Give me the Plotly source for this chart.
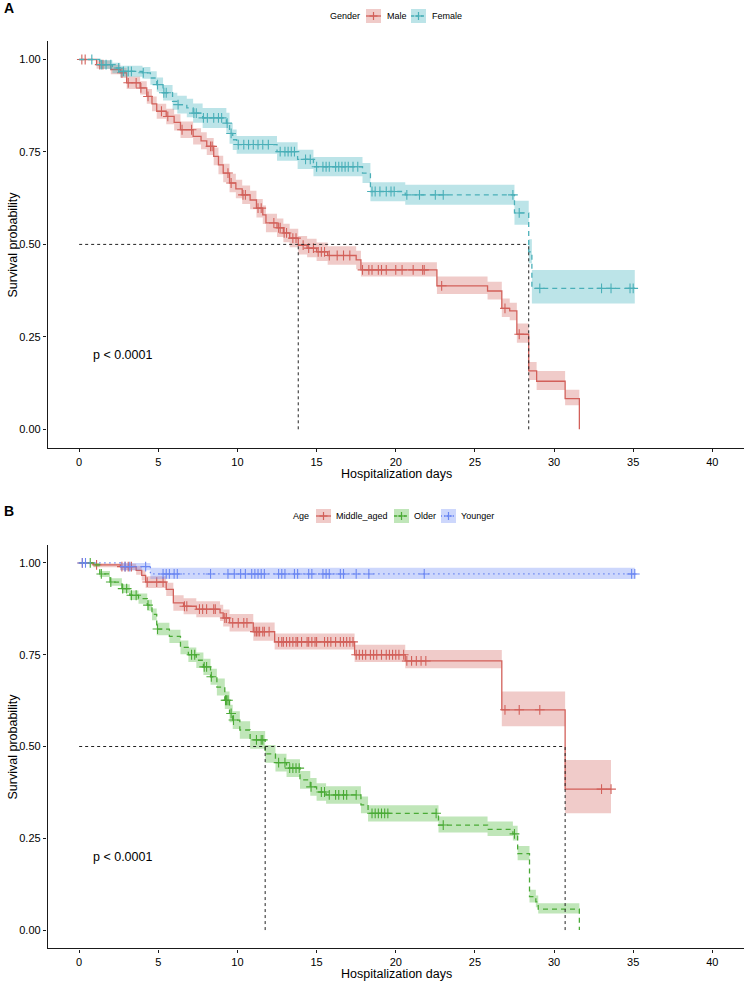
import numpy as np
import plotly.graph_objects as go

W, H = 744, 982

# ---------------- Panel A : Gender ----------------
male_time = [0, 1.1, 2.0, 2.6, 3.0, 3.85, 4.27, 4.6, 4.9, 5.5, 6.0, 6.4, 7.2, 7.7, 8.06, 8.5, 8.8, 9.1, 9.5, 9.9,
             10.3, 10.8, 11.2, 11.6, 11.8, 12.5, 12.9, 13.3, 13.84, 14.4, 15.0, 15.7, 17.5, 17.8, 22.6, 25.8, 26.7,
             27.2, 27.65, 28.4, 28.9, 30.7, 31.6]
male_surv = [1.0, 0.986, 0.973, 0.964, 0.937, 0.923, 0.90, 0.88, 0.86, 0.846, 0.83, 0.81, 0.792, 0.78, 0.765, 0.738,
             0.715, 0.693, 0.666, 0.65, 0.634, 0.62, 0.598, 0.58, 0.558, 0.545, 0.531, 0.517, 0.498, 0.49, 0.48, 0.47,
             0.458, 0.431, 0.388, 0.374, 0.327, 0.32, 0.257, 0.158, 0.13, 0.083, 0.0]
male_lower = [1.0, 0.975, 0.96, 0.95, 0.92, 0.905, 0.88, 0.86, 0.84, 0.825, 0.808, 0.788, 0.77, 0.757, 0.742, 0.714,
              0.69, 0.668, 0.641, 0.625, 0.609, 0.595, 0.573, 0.555, 0.533, 0.52, 0.506, 0.492, 0.473, 0.465, 0.455,
              0.445, 0.433, 0.413, 0.366, 0.351, 0.304, 0.295, 0.234, 0.133, 0.106, 0.065, 0.0]
male_upper = [1.0, 0.997, 0.986, 0.978, 0.954, 0.941, 0.92, 0.90, 0.88, 0.867, 0.852, 0.832, 0.814, 0.803, 0.788,
              0.762, 0.74, 0.718, 0.691, 0.675, 0.659, 0.645, 0.623, 0.605, 0.583, 0.57, 0.556, 0.542, 0.523, 0.515,
              0.505, 0.495, 0.483, 0.452, 0.413, 0.399, 0.354, 0.342, 0.286, 0.182, 0.158, 0.107, 0.0]
male_end = 31.6
male_censor = [0.17, 0.38, 1.3, 1.5, 2.7, 3.1, 3.6, 3.9, 4.35, 5.2, 5.6, 6.5, 7.1, 8.3, 8.4, 9.4, 9.6, 10.35, 10.5,
               11.3, 11.5, 12.3, 12.6, 12.7, 12.95, 13.1, 13.5, 13.7, 14.15, 14.5, 14.8, 15.1, 15.3, 15.5, 15.8, 16.3,
               16.7, 17.1, 17.9, 18.3, 18.5, 18.9, 19.1, 19.4, 20.0, 20.4, 21.1, 21.7, 21.8, 22.9, 26.9, 27.8]

female_time = [0, 1.3, 2.1, 2.6, 4.0, 4.5, 4.9, 5.3, 5.9, 6.2, 6.8, 7.2, 7.8, 9.3, 9.5, 9.7, 9.95, 12.5, 13.8, 14.8,
               17.9, 18.4, 20.6, 27.5, 28.4, 28.6]
female_surv = [1.0, 0.986, 0.977, 0.968, 0.964, 0.95, 0.932, 0.91, 0.887, 0.878, 0.869, 0.855, 0.842, 0.828, 0.80,
               0.783, 0.77, 0.751, 0.73, 0.71, 0.693, 0.643, 0.634, 0.585, 0.48, 0.381]
female_lower = [1.0, 0.974, 0.963, 0.953, 0.948, 0.932, 0.913, 0.889, 0.864, 0.854, 0.844, 0.829, 0.815, 0.8, 0.772,
                0.755, 0.745, 0.726, 0.704, 0.684, 0.666, 0.617, 0.607, 0.553, 0.449, 0.34]
female_upper = [1.0, 0.998, 0.991, 0.983, 0.98, 0.968, 0.951, 0.931, 0.91, 0.902, 0.894, 0.881, 0.869, 0.856, 0.828,
                0.811, 0.793, 0.776, 0.756, 0.736, 0.72, 0.668, 0.661, 0.618, 0.514, 0.431]
female_end = 35.1
female_censor = [0.8, 1.4, 1.7, 2.0, 2.5, 2.8, 3.1, 3.3, 4.05, 4.95, 5.35, 5.5, 6.25, 7.25, 7.4, 7.85, 8.1, 8.5, 8.8,
                 9.0, 9.35, 9.6, 10.05, 10.4, 10.7, 11.0, 11.3, 11.6, 11.95, 12.7, 13.0, 13.2, 13.4, 13.6, 14.3,
                 14.6, 15.0, 15.4, 15.6, 15.8, 16.2, 16.4, 16.6, 16.8, 17.0, 17.3, 17.6, 18.5, 18.7, 19.0, 19.4,
                 19.7, 19.9, 20.7, 21.5, 22.5, 23.0, 27.4, 27.8, 29.1, 33.0, 33.6, 34.8, 35.0]

# ---------------- Panel B : Age ----------------
mid_time = [0, 0.9, 2.6, 3.6, 3.95, 4.2, 5.5, 5.95, 6.6, 7.4, 8.9, 9.1, 9.5, 11.0, 12.35, 17.4, 20.6, 26.7, 30.7]
mid_surv = [1.0, 0.995, 0.99, 0.98, 0.966, 0.948, 0.928, 0.891, 0.882, 0.874, 0.864, 0.85, 0.837, 0.813, 0.785, 0.75,
            0.733, 0.60, 0.384]
mid_lower = [1.0, 0.988, 0.98, 0.968, 0.952, 0.932, 0.91, 0.87, 0.86, 0.852, 0.842, 0.827, 0.813, 0.788, 0.764, 0.73,
             0.713, 0.555, 0.318]
mid_upper = [1.0, 1.0, 0.998, 0.992, 0.98, 0.964, 0.946, 0.912, 0.904, 0.896, 0.886, 0.873, 0.861, 0.838, 0.808,
             0.777, 0.763, 0.65, 0.463]
mid_end = 33.6
mid_censor = [0.2, 1.1, 2.7, 2.9, 3.1, 3.3, 4.3, 4.9, 5.3, 6.65, 6.8, 7.6, 7.8, 8.05, 8.5, 8.6, 9.2, 9.3, 9.7, 10.05,
              10.4, 10.6, 11.1, 11.2, 11.3, 11.4, 11.6, 11.7, 12.0, 12.6, 12.8, 12.9, 13.1, 13.3, 13.5, 13.7, 13.8,
              14.05, 14.4, 14.5, 14.7, 14.9, 15.0, 15.5, 15.7, 15.9, 16.2, 16.5, 16.7, 16.9, 17.1, 17.3, 17.5, 17.7,
              17.9, 18.1, 18.4, 18.6, 18.8, 19.1, 19.4, 19.6, 19.8, 20.0, 20.2, 20.5, 20.7, 21.0, 21.3, 21.6, 21.9,
              26.9, 27.8, 29.1, 33.0, 33.6]

old_time = [0, 0.9, 1.3, 1.95, 2.7, 3.2, 3.75, 4.3, 4.6, 4.9, 5.7, 6.4, 6.9, 7.4, 7.85, 8.3, 8.7, 9.2, 9.5, 9.7,
            10.15, 10.8, 11.75, 12.4, 13.1, 13.95, 14.6, 15.0, 15.6, 17.8, 18.25, 22.7, 25.8, 27.4, 27.7, 28.45,
            28.85, 29.0, 31.6]
old_surv = [1.0, 0.995, 0.97, 0.948, 0.93, 0.912, 0.903, 0.885, 0.86, 0.82, 0.80, 0.77, 0.75, 0.735, 0.717, 0.69,
            0.662, 0.626, 0.59, 0.572, 0.545, 0.518, 0.48, 0.456, 0.441, 0.409, 0.39, 0.376, 0.368, 0.341, 0.318,
            0.286, 0.274, 0.262, 0.208, 0.091, 0.077, 0.057, 0.0]
old_lower = [1.0, 0.99, 0.962, 0.938, 0.918, 0.899, 0.889, 0.87, 0.844, 0.803, 0.782, 0.751, 0.73, 0.714, 0.695,
             0.668, 0.639, 0.602, 0.566, 0.548, 0.521, 0.494, 0.456, 0.432, 0.417, 0.385, 0.366, 0.352, 0.344, 0.318,
             0.296, 0.266, 0.256, 0.244, 0.19, 0.075, 0.062, 0.045, 0.0]
old_upper = [1.0, 1.0, 0.978, 0.958, 0.942, 0.925, 0.917, 0.9, 0.876, 0.837, 0.818, 0.789, 0.77, 0.756, 0.739, 0.712,
             0.685, 0.65, 0.614, 0.596, 0.569, 0.542, 0.504, 0.48, 0.465, 0.433, 0.414, 0.4, 0.392, 0.364, 0.34,
             0.309, 0.296, 0.284, 0.229, 0.11, 0.094, 0.073, 0.0]
old_end = 31.6
old_censor = [0.7, 1.4, 2.0, 2.75, 3.0, 3.3, 3.6, 4.35, 4.95, 7.1, 7.3, 7.9, 8.05, 8.35, 9.25, 9.3, 9.4, 9.6, 9.75,
              11.2, 11.5, 11.6, 12.6, 13.0, 13.3, 13.5, 13.7, 13.9, 14.65, 15.3, 15.5, 15.8, 16.2, 16.4, 16.7, 16.9,
              17.5, 18.5, 18.7, 18.9, 19.1, 19.3, 19.5, 22.55, 23.0, 27.5]

young_time = [0, 2.6, 4.5]
young_surv = [1.0, 0.99, 0.97]
young_lower = [1.0, 0.98, 0.956]
young_upper = [1.0, 1.0, 0.987]
young_end = 35.1
young_censor = [0.2, 0.4, 2.9, 3.2, 4.2, 5.3, 5.5, 5.7, 6.0, 6.2, 8.3, 9.4, 9.8, 10.2, 10.5, 10.9, 11.1, 11.3, 11.5,
                11.7, 12.6, 12.8, 13.0, 13.6, 13.8, 14.5, 14.7, 15.4, 15.6, 15.8, 16.5, 16.7, 17.5, 18.3, 21.8, 34.9,
                35.1]

x_ticks = [0, 5, 10, 15, 20, 25, 30, 35, 40]
y_ticks = [0, 0.25, 0.5, 0.75, 1.0]
y_ticklabels = ["0.00", "0.25", "0.50", "0.75", "1.00"]

RED, RED_F = "#D2605A", "rgba(210,96,90,0.33)"
TEAL, TEAL_F = "#4AAFB8", "rgba(70,180,190,0.36)"
GREEN, GREEN_F = "#4AAA36", "rgba(80,185,60,0.36)"
BLUE, BLUE_F = "#6A86F2", "rgba(100,130,245,0.32)"
FONT = "Liberation Sans, Arial, sans-serif"


def step_xy(times, vals, end):
    t = list(times) + [end]
    xs = np.repeat(t, 2)[1:-1]
    ys = np.repeat(vals, 2)
    return xs, ys


def band_xy(times, lower, upper, end):
    xu, yu = step_xy(times, upper, end)
    xl, yl = step_xy(times, lower, end)
    return np.concatenate([xu, xl[::-1]]), np.concatenate([yu, yl[::-1]])


def surv_at(times, surv, tc):
    idx = np.searchsorted(np.asarray(times), np.asarray(tc), side="right") - 1
    return np.asarray(surv)[idx]


def median_time(times, surv):
    for t, s in zip(times, surv):
        if s <= 0.5:
            return t
    return None


fig = go.Figure()


def add_group(times, surv, lower, upper, end, censor, color, fill, dash, xa, ya):
    bx, by = band_xy(times, lower, upper, end)
    fig.add_trace(go.Scatter(x=bx, y=by, fill="toself", fillcolor=fill, line=dict(width=0),
                             mode="lines", hoverinfo="skip", showlegend=False, xaxis=xa, yaxis=ya))
    fig.add_trace(go.Scatter(x=list(times) + [end], y=list(surv) + [surv[-1]], mode="lines",
                             line=dict(color=color, width=1.3, dash=dash, shape="hv"),
                             showlegend=False, xaxis=xa, yaxis=ya))
    fig.add_trace(go.Scatter(x=censor, y=surv_at(times, surv, censor), mode="markers",
                             marker=dict(symbol="cross-thin", size=7, line=dict(color=color, width=1.1)),
                             showlegend=False, xaxis=xa, yaxis=ya))


DASH = "5px,4px"
DOT = "1.5px,3.5px"

add_group(male_time, male_surv, male_lower, male_upper, male_end, male_censor, RED, RED_F, "solid", "x", "y")
add_group(female_time, female_surv, female_lower, female_upper, female_end, female_censor, TEAL, TEAL_F, DASH, "x", "y")
add_group(mid_time, mid_surv, mid_lower, mid_upper, mid_end, mid_censor, RED, RED_F, "solid", "x2", "y2")
add_group(old_time, old_surv, old_lower, old_upper, old_end, old_censor, GREEN, GREEN_F, DASH, "x2", "y2")
add_group(young_time, young_surv, young_lower, young_upper, young_end, young_censor, BLUE, BLUE_F, DOT, "x2", "y2")

shapes = []
annotations = []

# median lines
for xr, yr, groups in [("x", "y", [(male_time, male_surv), (female_time, female_surv)]),
                       ("x2", "y2", [(mid_time, mid_surv), (old_time, old_surv), (young_time, young_surv)])]:
    meds = [m for m in (median_time(t, s) for t, s in groups) if m is not None]
    shapes.append(dict(type="line", xref=xr, yref=yr, x0=0, x1=max(meds), y0=0.5, y1=0.5,
                       line=dict(color="#222", width=1, dash="3px,3px")))
    for m in meds:
        shapes.append(dict(type="line", xref=xr, yref=yr, x0=m, x1=m, y0=0, y1=0.5,
                           line=dict(color="#222", width=1, dash="3px,3px")))
    annotations.append(dict(text="p < 0.0001", xref=xr, yref=yr, x=0.74, y=0.2, xanchor="left",
                            yanchor="middle", showarrow=False, font=dict(size=12.5, color="black", family=FONT)))


def px(x):
    return x / W


def py(y):
    return 1 - y / H


# axis domains (pixel-based)
X_DOM = [px(47.5), 1.0]
A_DOM = [py(447.8), py(41.0)]
B_DOM = [py(948.4), py(544.6)]

axis_common = dict(showgrid=False, zeroline=False, showline=True, linecolor="#1a1a1a", linewidth=1.3,
                   ticks="outside", ticklen=3.5, tickwidth=1, tickcolor="#1a1a1a", automargin=False,
                   tickfont=dict(size=11, color="black", family=FONT))

fig.update_layout(
    xaxis=dict(domain=X_DOM, anchor="y", range=[-2, 42], tickvals=x_ticks, **axis_common),
    yaxis=dict(domain=A_DOM, anchor="x", range=[-0.05, 1.05], tickvals=y_ticks, ticktext=y_ticklabels, **axis_common),
    xaxis2=dict(domain=X_DOM, anchor="y2", range=[-2, 42], tickvals=x_ticks, **axis_common),
    yaxis2=dict(domain=B_DOM, anchor="x2", range=[-0.05, 1.05], tickvals=y_ticks, ticktext=y_ticklabels, **axis_common),
)

# axis titles
for ycen, yaxis_mid in [(474, 244.5), (974, 746.5)]:
    annotations.append(dict(text="Hospitalization days", xref="paper", yref="paper", x=px(396), y=py(ycen),
                            xanchor="center", yanchor="middle", showarrow=False,
                            font=dict(size=12.5, color="black", family=FONT)))
    annotations.append(dict(text="Survival probability", xref="paper", yref="paper", x=px(12), y=py(yaxis_mid),
                            xanchor="center", yanchor="middle", textangle=-90, showarrow=False,
                            font=dict(size=12.5, color="black", family=FONT)))

# panel labels
for lab, ycen in [("A", 8), ("B", 511)]:
    annotations.append(dict(text="<b>%s</b>" % lab, xref="paper", yref="paper", x=px(2), y=py(ycen),
                            xanchor="left", yanchor="middle", showarrow=False,
                            font=dict(size=14, color="black", family=FONT)))


# manual legends (ggplot style keys)
def legend_key(x0, ycen, color, fill, dash):
    x1 = x0 + 15
    y0, y1 = ycen - 7, ycen + 7
    shapes.append(dict(type="rect", xref="paper", yref="paper", x0=px(x0), x1=px(x1), y0=py(y1), y1=py(y0),
                       fillcolor=fill, line=dict(width=0)))
    shapes.append(dict(type="line", xref="paper", yref="paper", x0=px(x0), x1=px(x1), y0=py(ycen), y1=py(ycen),
                       line=dict(color=color, width=1.3, dash=dash)))
    xc = (x0 + x1) / 2
    shapes.append(dict(type="line", xref="paper", yref="paper", x0=px(xc), x1=px(xc), y0=py(ycen - 4),
                       y1=py(ycen + 4), line=dict(color=color, width=1.2)))
    shapes.append(dict(type="line", xref="paper", yref="paper", x0=px(xc - 4), x1=px(xc + 4), y0=py(ycen),
                       y1=py(ycen), line=dict(color=color, width=1.2)))


def legend_text(text, x, ycen, anchor="left"):
    annotations.append(dict(text=text, xref="paper", yref="paper", x=px(x), y=py(ycen), xanchor=anchor,
                            yanchor="middle", showarrow=False, font=dict(size=9, color="black", family=FONT)))


LA = 16
legend_text("Gender", 362, LA, "right")
legend_key(366, LA, RED, RED_F, "solid")
legend_text("Male", 385, LA)
legend_key(411, LA, TEAL, TEAL_F, "3px,2px")
legend_text("Female", 430, LA)

LB = 516
legend_text("Age", 311, LB, "right")
legend_key(316, LB, RED, RED_F, "solid")
legend_text("Middle_aged", 334, LB)
legend_key(394, LB, GREEN, GREEN_F, "3px,2px")
legend_text("Older", 412, LB)
legend_key(441, LB, BLUE, BLUE_F, "1px,2px")
legend_text("Younger", 459, LB)

fig.update_layout(
    width=W, height=H, margin=dict(l=0, r=0, t=0, b=0),
    paper_bgcolor="white", plot_bgcolor="white", showlegend=False,
    shapes=shapes, annotations=annotations,
    font=dict(family=FONT, color="black"),
)

fig.write_html("out.html", config={"displayModeBar": False},
               post_script="document.body.style.margin='0';document.body.style.padding='0';")
